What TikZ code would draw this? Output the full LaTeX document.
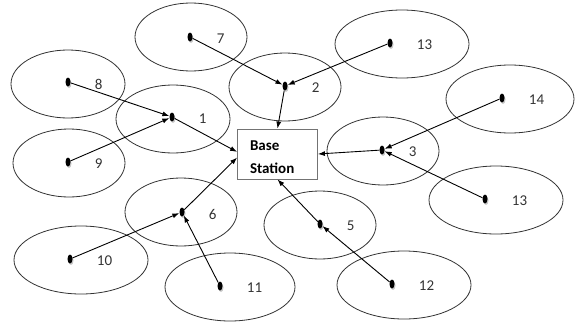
\documentclass[tikz,border=0pt]{standalone}
\usepackage{fontspec}
\setmainfont{Carlito}
\usetikzlibrary{shapes.geometric,arrows.meta,shadows}

\begin{document}
\begin{tikzpicture}[x=1pt, y=-1pt,
    coverage/.style={draw=black!80, line width=0.8pt},
    sensor/.style={ellipse, fill=black, inner sep=0pt,
      minimum width=5pt, minimum height=9pt,
      drop shadow={fill=black!22, shadow xshift=1pt, shadow yshift=-1.5pt, opacity=1},
      label={[lbl]right:#1}},
    lbl/.style={font=\fontsize{15}{18}\selectfont, text=black!80,
      inner sep=1pt, label distance=23pt, yshift=-2pt},
    link/.style={-{Latex[length=7pt,width=5pt]}, line width=0.9pt}]
  \useasboundingbox (0,0) rectangle (575,324);

  % Sensing ranges
  \draw[coverage] (173,119) ellipse [x radius=57, y radius=34];
  \draw[coverage] (285,87) ellipse [x radius=56, y radius=34];
  \draw[coverage] (383,151) ellipse [x radius=56, y radius=34];
  \draw[coverage] (320,225) ellipse [x radius=56, y radius=34];
  \draw[coverage] (181,212) ellipse [x radius=56, y radius=34];
  \draw[coverage] (191,37) ellipse [x radius=56, y radius=34];
  \draw[coverage] (68,84) ellipse [x radius=57, y radius=34];
  \draw[coverage] (69,163) ellipse [x radius=56, y radius=34];
  \draw[coverage] (81,260) ellipse [x radius=67, y radius=34];
  \draw[coverage] (230,287) ellipse [x radius=65, y radius=34];
  \draw[coverage] (404,285) ellipse [x radius=67, y radius=34];
  \draw[coverage] (402,44) ellipse [x radius=67, y radius=34];
  \draw[coverage] (496,200) ellipse [x radius=67, y radius=34];
  \draw[coverage] (510,99) ellipse [x radius=64, y radius=34];

  % Base station
  \node[draw=black!55, line width=0.8pt, minimum width=80pt, minimum height=50pt,
    text width=55pt, align=left, font=\bfseries\fontsize{15}{23}\selectfont]
    (bs) at (277.5,154) {\rule{0pt}{17pt}Base\\Station};

  % Sensor nodes
  \node[sensor=1] (n1) at (172,117) {};
  \node[sensor=2] (n2) at (285,86) {};
  \node[sensor=3] (n3) at (382,150) {};
  \node[sensor=5] (n5) at (320,224) {};
  \node[sensor=6] (n6) at (182,212) {};
  \node[sensor=7] (n7) at (190,37) {};
  \node[sensor=8] (n8) at (68,82) {};
  \node[sensor=9] (n9) at (68,162) {};
  \node[sensor=10] (n10) at (70,259) {};
  \node[sensor=11] (n11) at (220,286) {};
  \node[sensor=12] (n12) at (392,284) {};
  \node[sensor=13] (n13a) at (390,43) {};
  \node[sensor=13] (n13b) at (485,199) {};
  \node[sensor=14] (n14) at (502,98) {};

  % Links
  \draw[link] (n7) -- (n2);
  \draw[link] (n13a) -- (n2);
  \draw[link] (n2) -- (bs.north);
  \draw[link] (n8) -- (n1);
  \draw[link] (n9) -- (n1);
  \draw[link] (n1) -- (bs.177);
  \draw[link] (n10) -- (n6);
  \draw[link] (n11) -- (n6);
  \draw[link] (n6) -- (bs.185);
  \draw[link] (n12) -- (n5);
  \draw[link] (n5) -- (bs.south);
  \draw[link] (n14) -- (n3);
  \draw[link] (n13b) -- (n3);
  \draw[link] (n3) -- (bs.east);
\end{tikzpicture}
\end{document}
